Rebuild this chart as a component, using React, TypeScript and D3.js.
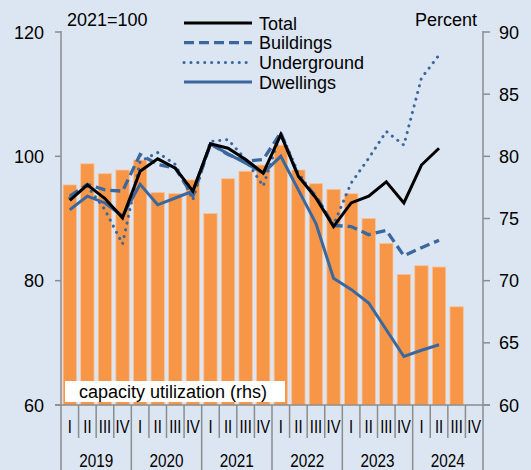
import React from "react";
import * as d3 from "d3";

const years = ["2019", "2020", "2021", "2022", "2023", "2024"];
const quarterLabels = ["I", "II", "III", "IV"];
const capacity = [77.7, 79.4, 78.6, 78.9, 79.7, 77.1, 77.0, 78.1, 75.4, 78.2, 78.8, 79.3, 80.9, 78.9, 77.8, 77.35, 77.0, 75.0, 73.0, 70.5, 71.2, 71.1, 67.9];
const total = [92.9, 95.4, 93.2, 90.1, 97.6, 99.6, 98.1, 94.4, 102.0, 101.3, 99.5, 97.3, 103.5, 96.8, 93.3, 88.7, 92.5, 93.6, 95.9, 92.5, 98.6, 101.3];
const buildings = [93.6, 95.5, 94.6, 94.4, 100.3, 98.7, 98.1, 93.6, 102.0, 100.3, 99.2, 99.5, 103.8, 96.8, 93.6, 88.9, 88.7, 87.4, 88.1, 84.0, 85.3, 86.5];
const underground = [93.3, 95.2, 91.4, 85.9, 99.2, 100.6, 98.7, 93.0, 102.4, 102.7, 99.5, 95.2, 103.8, 97.3, 93.3, 89.0, 95.7, 99.7, 104.0, 101.8, 112.6, 116.3];
const dwellings = [91.4, 93.6, 92.5, 90.4, 95.5, 92.2, 93.3, 94.4, 102.0, 100.4, 98.9, 97.3, 100.0, 94.6, 89.2, 80.4, 78.6, 76.4, 72.1, 67.8, 68.8, 69.7];
const leftTicks = [60, 80, 100, 120];
const rightTicks = [60, 65, 70, 75, 80, 85, 90];

const W = 531;
const H = 470;
const FONT = "'Liberation Sans', Arial, sans-serif";
const BLUE = "#3A679E";
const GRID = "#8c8c8c";

export default function App() {
  const quarters = years.flatMap((y) => quarterLabels.map((q) => `${y}-${q}`));
  const left = 61;
  const right = 483;
  const bottom = 405;
  const top = 32;
  const x = d3.scaleBand<string>().domain(quarters).range([left, right]).paddingInner(0.24).paddingOuter(0.12);
  const step = x.step();
  const cx = (i: number) => (x(quarters[i]) as number) + x.bandwidth() / 2;
  const yL = d3.scaleLinear().domain([60, 120]).range([bottom, top]);
  const yR = d3.scaleLinear().domain([60, 90]).range([bottom, top]);

  const line = d3
    .line<number>()
    .x((_, i) => cx(i))
    .y((d) => yL(d));

  const series = [
    { name: "Total", data: total, color: "#000", dash: undefined as string | undefined, w: 3, cap: "butt" },
    { name: "Buildings", data: buildings, color: BLUE, dash: "10 5", w: 3.3, cap: "butt" },
    { name: "Underground", data: underground, color: BLUE, dash: "0.1 6.8", w: 3, cap: "round" },
    { name: "Dwellings", data: dwellings, color: BLUE, dash: undefined, w: 3, cap: "butt" },
  ];
  const drawOrder = [3, 2, 1, 0];

  return (
    <svg width={W} height={H} style={{ position: "absolute", left: 0, top: 0, display: "block" }} fontFamily={FONT}>
      <rect x={0} y={0} width={W} height={H} fill="#DCE6F2" />
      {/* bars */}
      {capacity.map((v, i) => (
        <rect
          key={i}
          x={x(quarters[i])}
          y={yR(v)}
          width={x.bandwidth()}
          height={bottom - yR(v)}
          fill="#F79646"
          stroke="#F9C39A"
          strokeWidth={0.8}
        />
      ))}
      {/* capacity label */}
      <rect x={65} y={381} width={220} height={21} fill="#fff" />
      <text x={79} y={398} fontSize={18} fill="#000">capacity utilization (rhs)</text>

      {/* lines */}
      {drawOrder.map((k) => {
        const s = series[k];
        return (
          <path
            key={s.name}
            d={line(s.data) || ""}
            fill="none"
            stroke={s.color}
            strokeWidth={s.w}
            strokeDasharray={s.dash}
            strokeLinecap={s.cap as any}
            strokeLinejoin="miter"
          />
        );
      })}

      {/* axes */}
      <line x1={left} x2={left} y1={yL(120) - 1} y2={H} stroke={GRID} strokeWidth={1.5} />
      <line x1={right} x2={right} y1={yR(90) - 1} y2={H} stroke={GRID} strokeWidth={1.5} />
      <line x1={left - 6} x2={right + 7} y1={bottom} y2={bottom} stroke={GRID} strokeWidth={1.5} />
      {leftTicks.map((t) => (
        <g key={`l${t}`}>
          <line x1={left - 6} x2={left} y1={yL(t)} y2={yL(t)} stroke={GRID} strokeWidth={1.5} />
          <text x={44} y={yL(t) + 6.5} fontSize={18} textAnchor="end" fill="#000">{t}</text>
        </g>
      ))}
      {rightTicks.map((t) => (
        <g key={`r${t}`}>
          <line x1={right} x2={right + 7} y1={yR(t)} y2={yR(t)} stroke={GRID} strokeWidth={1.5} />
          <text x={499} y={yR(t) + 6.5} fontSize={18} textAnchor="start" fill="#000">{t}</text>
        </g>
      ))}
      {/* x ticks */}
      {quarters.map((q, i) => {
        const xb = left + i * step;
        const isYear = i % 4 === 0;
        return i === 0 ? null : (
          <line key={`t${q}`} x1={xb} x2={xb} y1={bottom} y2={isYear ? H : 438} stroke={GRID} strokeWidth={1.5} />
        );
      })}
      {quarters.map((q, i) => (
        <text
          key={`q${q}`}
          transform={`translate(${cx(i)},433) scale(0.82,1)`}
          fontSize={18}
          textAnchor="middle"
          fill="#000"
        >
          {quarterLabels[i % 4]}
        </text>
      ))}
      {years.map((y, j) => (
        <text
          key={`y${y}`}
          transform={`translate(${left + (j * 4 + 2) * step},467) scale(0.85,1)`}
          fontSize={18}
          textAnchor="middle"
          fill="#000"
        >
          {y}
        </text>
      ))}

      {/* titles */}
      <text x={67} y={26} fontSize={18} fill="#000">2021=100</text>
      <text x={477} y={26} fontSize={18} textAnchor="end" fill="#000">Percent</text>

      {/* legend */}
      {series.map((s, i) => {
        const ly = 23 + i * 19.7;
        return (
          <g key={`lg${s.name}`}>
            <line
              x1={184}
              x2={252}
              y1={ly}
              y2={ly}
              stroke={s.color}
              strokeWidth={s.w}
              strokeDasharray={s.dash}
              strokeLinecap={s.cap as any}
            />
            <text x={259} y={ly + 6.5} fontSize={18} fill="#000">{s.name}</text>
          </g>
        );
      })}
    </svg>
  );
}
